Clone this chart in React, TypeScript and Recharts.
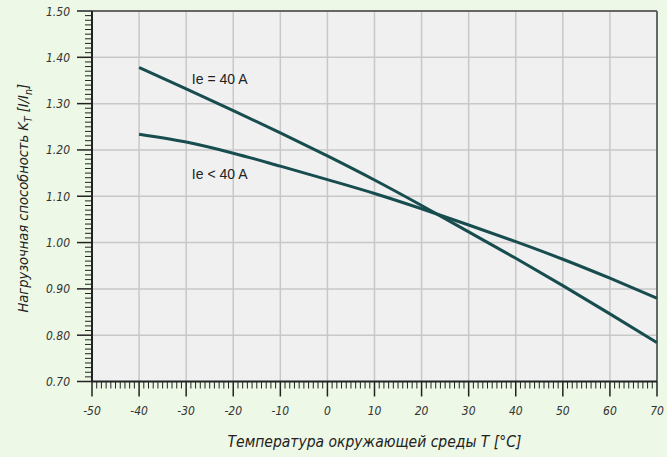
import React from 'react';
import { LineChart, Line, XAxis, YAxis, ReferenceLine, ReferenceArea, ReferenceDot } from 'recharts';

const temperatures = [-40, -30, -20, -10, 0, 10, 20, 30, 40, 50, 60, 70];
const kIe40 = [1.378, 1.332, 1.285, 1.237, 1.187, 1.135, 1.08, 1.023, 0.966, 0.907, 0.846, 0.784];
const kIeBelow40 = [1.234, 1.217, 1.193, 1.165, 1.136, 1.106, 1.073, 1.038, 1.002, 0.964, 0.923, 0.88];

const xMajorTicks = [-50, -40, -30, -20, -10, 0, 10, 20, 30, 40, 50, 60, 70];
const yMajorTicks = [0.7, 0.8, 0.9, 1.0, 1.1, 1.2, 1.3, 1.4, 1.5];
const xMinorTicks = Array.from({ length: 121 }, (_, i) => -50 + i);
const yMinorTicks = Array.from({ length: 81 }, (_, i) => Math.round(70 + i) / 100);

const data = temperatures.map((t, i) => ({ t, a: kIe40[i], b: kIeBelow40[i] }));

const LINE_COLOR = '#174d4f';
const FONT = '"Liberation Sans Narrow", "DejaVu Sans Condensed", "Liberation Sans", Arial, sans-serif';

const XTick = (props: any) => {
  const { x, y, payload } = props;
  const v = Math.round(payload.value);
  const major = v % 10 === 0;
  return (
    <g>
      <line x1={x} x2={x} y1={y} y2={y + (major ? 15 : 7)} stroke="#222" strokeWidth={major ? 1.5 : 1} />
      {major && (
        <text x={x} y={y + 33} textAnchor="middle" fontSize={12} fontStyle="italic" fill="#333" fontFamily={FONT}>
          {v}
        </text>
      )}
    </g>
  );
};

const YTick = (props: any) => {
  const { x, y, payload } = props;
  const v = Math.round(payload.value * 100);
  const major = v % 10 === 0;
  return (
    <g>
      <line x1={x - (major ? 15 : 7)} x2={x} y1={y} y2={y} stroke="#222" strokeWidth={major ? 1.5 : 1} />
      {major && (
        <text x={x - 22} y={y + 4.5} textAnchor="end" fontSize={12} fontStyle="italic" fill="#333" fontFamily={FONT}>
          {(v / 100).toFixed(2)}
        </text>
      )}
    </g>
  );
};

const YLabel = (props: any) => {
  const { viewBox } = props;
  const cy = viewBox.y + viewBox.height / 2 + 2;
  const cx = 28;
  return (
    <text
      x={cx}
      y={cy}
      transform={`rotate(-90, ${cx}, ${cy})`}
      textAnchor="middle"
      fontSize={14.5}
      fontStyle="italic"
      fill="#222"
      fontFamily={FONT}
    >
      Нагрузочная способность K
      <tspan fontSize={10.5} dy={4}>T</tspan>
      <tspan dy={-4}> [I/I</tspan>
      <tspan fontSize={10.5} dy={4}>n</tspan>
      <tspan dy={-4}>]</tspan>
    </text>
  );
};

const XLabel = (props: any) => {
  const { viewBox } = props;
  const cx = viewBox.x + viewBox.width / 2;
  return (
    <text x={cx} y={447} textAnchor="middle" fontSize={15.5} fontStyle="italic" fill="#222" fontFamily={FONT}>
      Температура окружающей среды Т [°C]
    </text>
  );
};

const gridX = xMajorTicks.slice(1, -1);
const gridY = yMajorTicks.slice(1, -1);

export default function App() {
  return (
    <div style={{ position: 'absolute', left: 0, top: 0, width: 667, height: 457, background: '#eef8e6' }}>
      <LineChart width={667} height={457} data={data} margin={{ top: 11, right: 10, left: 0, bottom: 0 }}>
        <XAxis
          dataKey="t"
          type="number"
          domain={[-50, 70]}
          ticks={xMinorTicks}
          interval={0}
          tick={<XTick />}
          tickLine={false}
          tickSize={0}
          tickMargin={0}
          height={75.5}
          axisLine={{ stroke: '#222', strokeWidth: 2 }}
          label={<XLabel />}
        />
        <YAxis
          type="number"
          domain={[0.7, 1.5]}
          ticks={yMinorTicks}
          interval={0}
          tick={<YTick />}
          tickLine={false}
          tickSize={0}
          tickMargin={0}
          width={92}
          axisLine={{ stroke: '#222', strokeWidth: 2 }}
          label={<YLabel />}
        />
        <ReferenceArea x1={-50} x2={70} y1={0.7} y2={1.5} fill="#f0f0f0" fillOpacity={1} stroke="none" />
        {gridX.map((v) => (
          <ReferenceLine key={'gx' + v} x={v} stroke="#c8c8c8" strokeWidth={1.5} />
        ))}
        {gridY.map((v) => (
          <ReferenceLine key={'gy' + v} y={v} stroke="#c8c8c8" strokeWidth={1.5} />
        ))}
        <ReferenceLine y={1.5} stroke="#666" strokeWidth={2} />
        <ReferenceLine x={70} stroke="#666" strokeWidth={2} />
        <Line type="monotone" dataKey="a" stroke={LINE_COLOR} strokeWidth={3} dot={false} isAnimationActive={false} />
        <Line type="monotone" dataKey="b" stroke={LINE_COLOR} strokeWidth={3} dot={false} isAnimationActive={false} />
        <ReferenceDot
          x={-28.8}
          y={1.353}
          r={0}
          stroke="none"
          label={{ value: 'Ie = 40 A', position: 'right', offset: 0, fill: '#222', fontSize: 14, fontFamily: 'Liberation Sans, Arial, sans-serif' }}
        />
        <ReferenceDot
          x={-28.8}
          y={1.147}
          r={0}
          stroke="none"
          label={{ value: 'Ie < 40 A', position: 'right', offset: 0, fill: '#222', fontSize: 14, fontFamily: 'Liberation Sans, Arial, sans-serif' }}
        />
      </LineChart>
    </div>
  );
}
